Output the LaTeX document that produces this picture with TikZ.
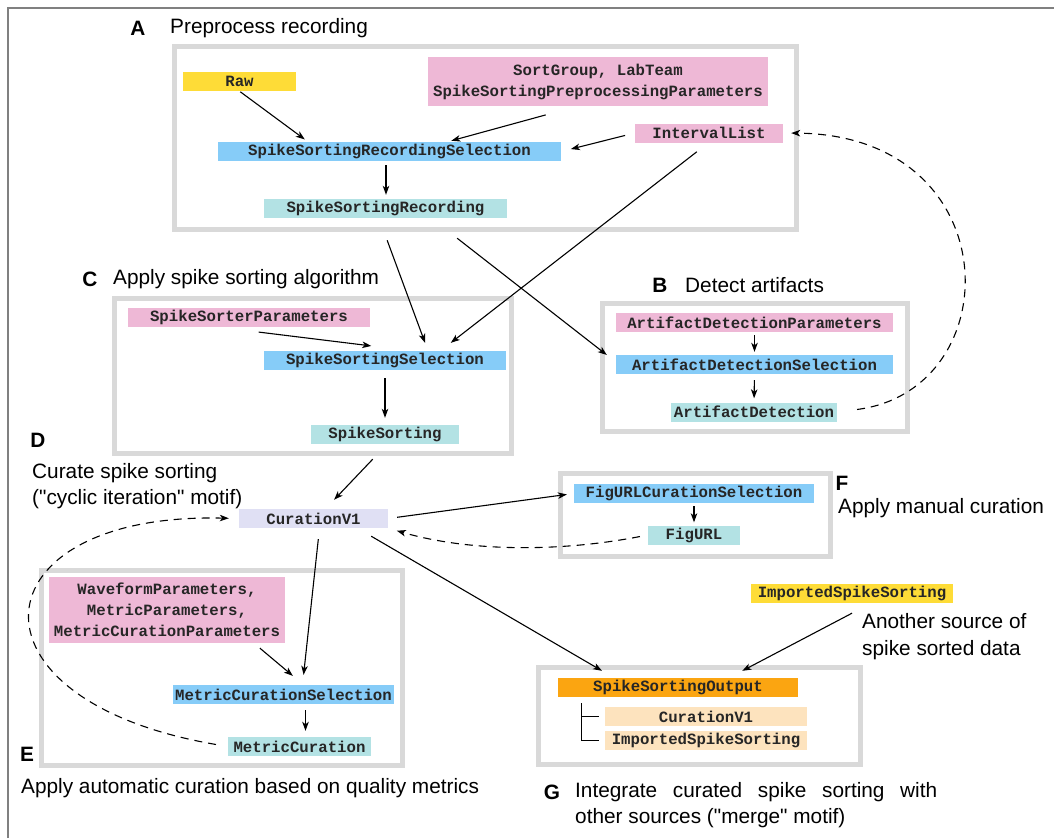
\documentclass[tikz,border=0pt]{standalone}
\usepackage{fontspec}
\setmainfont{Liberation Sans}
\setmonofont{Liberation Mono}
\usetikzlibrary{arrows,arrows.meta,positioning}

\definecolor{rawyellow}{HTML}{FEDC37}
\definecolor{parpink}{HTML}{EEB8D6}
\definecolor{selblue}{HTML}{86CCF8}
\definecolor{compteal}{HTML}{B3E2E4}
\definecolor{curlav}{HTML}{E0E0F4}
\definecolor{outorange}{HTML}{FBA511}
\definecolor{partorange}{HTML}{FDE3BE}
\definecolor{grpgray}{HTML}{D9D9D9}
\definecolor{framegray}{HTML}{808080}

\begin{document}
\begin{tikzpicture}[x=1pt,y=-1pt,
    tbl/.style={rectangle, inner sep=0pt, minimum height=19pt, align=center,
      font=\ttfamily\bfseries\fontsize{15.7}{21}\selectfont, text=black!85},
    rawtbl/.style={tbl, fill=rawyellow},
    partbl/.style={tbl, fill=parpink},
    seltbl/.style={tbl, fill=selblue},
    comptbl/.style={tbl, fill=compteal},
    curtbl/.style={tbl, fill=curlav},
    outtbl/.style={tbl, fill=outorange},
    parttbl/.style={tbl, fill=partorange},
    grp/.style={draw=grpgray, line width=5pt},
    ttl/.style={anchor=west, inner sep=0pt, align=left, font=\fontsize{20.8}{26.5}\selectfont},
    ltr/.style={inner sep=0pt, font=\bfseries\fontsize{20.8}{26.5}\selectfont},
    arr/.style={-{Stealth[length=9pt,width=6.5pt,inset=2.5pt]}, line width=1.1pt},
    dsh/.style={arr, dash pattern=on 8pt off 6pt}]
\useasboundingbox (0,0) rectangle (1054,838);
\draw[framegray, line width=2pt] (8,838) -- (8,8) -- (1054,8);

% A: preprocess recording
\draw[grp] (174,46) rectangle (796,229);
\node[ltr] (labA) at (138,28) {A};
\node[ttl] (ttlA) at (170,28) {Preprocess recording};
\node[rawtbl, minimum width=113pt] (raw) at (239.5,81.5) {Raw};
\node[partbl, minimum width=340pt, minimum height=49pt] (prep) at (598,81.5) {SortGroup, LabTeam\\SpikeSortingPreprocessingParameters};
\node[seltbl, minimum width=343pt] (ssrs) at (389.5,151.5) {SpikeSortingRecordingSelection};
\node[partbl, minimum width=148pt] (ilist) at (709,133) {IntervalList};
\node[comptbl, minimum width=243pt] (ssr) at (385.5,208.5) {SpikeSortingRecording};
\draw[arr, shorten <=1pt, shorten >=4pt] (raw.south) -- ([xshift=-81.5pt]ssrs.north);
\draw[arr, shorten <=33pt, shorten >=4pt] ([xshift=-20.5pt]prep.south) -- ([xshift=58pt]ssrs.north);
\draw[arr, shorten <=10pt, shorten >=10pt] (ilist.west) -- (ssrs.east);
\draw[arr, shorten <=4pt, shorten >=4pt] ([xshift=-3.5pt]ssrs.south) -- ([xshift=0.5pt]ssr.north);

% C: spike sorting
\draw[grp] (114,298) rectangle (511,453);
\node[ltr] (labC) at (90,279) {C};
\node[ttl] (ttlC) at (113,279) {Apply spike sorting algorithm};
\node[partbl, minimum width=242pt] (sspar) at (249,317.5) {SpikeSorterParameters};
\node[seltbl, minimum width=242pt] (sss) at (385,360.5) {SpikeSortingSelection};
\node[comptbl, minimum width=148pt] (ss) at (385,434.5) {SpikeSorting};
\draw[arr, shorten <=40pt, shorten >=40pt] ([xshift=-30pt]sspar.south) -- ([xshift=26pt]sss.north);
\draw[arr, shorten <=8pt, shorten >=7pt] (sss.south) -- (ss.north);
\draw[arr, shorten <=23.5pt, shorten >=8.5pt] ([xshift=-6.5pt]ssr.south) -- ([xshift=43pt]sss.north);
\draw[arr, shorten <=14.7pt, shorten >=13pt] ([xshift=-0.5pt]ilist.south) -- ([xshift=55.5pt]sss.north);

% B: artifacts
\draw[grp] (602,303) rectangle (907,431);
\node[ltr] (labB) at (660,285) {B};
\node[ttl] (ttlB) at (685,285) {Detect artifacts};
\node[partbl, minimum width=277pt] (adp) at (754.5,322.5) {ArtifactDetectionParameters};
\node[seltbl, minimum width=277pt] (ads) at (754.5,364.5) {ArtifactDetectionSelection};
\node[comptbl, minimum width=166pt] (ad) at (754,412) {ArtifactDetection};
\draw[arr, shorten <=3pt, shorten >=3pt] (adp.south) -- (ads.north);
\draw[arr, shorten <=6pt, shorten >=4pt] (ads.south) -- (ad.north);
\draw[arr, shorten <=32.5pt, shorten >=11.4pt] ([xshift=46pt]ssr.south) -- ([yshift=2.5pt]ads.west);
\draw[dsh, shorten <=20pt, shorten >=8pt] (ad.east) .. controls (1010,390) and (1010,135) .. (ilist.east);

% D: curation
\node[ltr] (labD) at (38,440) {D};
\node[ttl] (ttlD) at (32,486) {Curate spike sorting\\(\textquotedbl cyclic iteration\textquotedbl\ motif)};
\node[curtbl, minimum width=149pt] (cur) at (313.5,518.5) {CurationV1};
\draw[arr, shorten <=20.7pt, shorten >=12.4pt] ([xshift=2pt]ss.south) -- ([xshift=12pt]cur.north);

% F: manual curation
\draw[grp] (560,473) rectangle (830,556);
\node[ltr] (labF) at (842,483) {F};
\node[ttl] (ttlF) at (838,508) {Apply manual curation};
\node[seltbl, minimum width=240pt] (fcs) at (694,493.5) {FigURLCurationSelection};
\node[comptbl, minimum width=92pt] (furl) at (694,535) {FigURL};
\draw[arr, shorten <=9pt, shorten >=7pt] (cur.east) -- (fcs.west);
\draw[arr, shorten <=3pt, shorten >=3pt] (fcs.south) -- (furl.north);
\draw[dsh, shorten <=8pt, shorten >=9pt] (furl.west) .. controls (560,552) and (470,552) .. (cur.south east);

% E: automatic curation
\draw[grp] (41,570) rectangle (402,765);
\node[ltr] (labE) at (27,754) {E};
\node[ttl] (ttlE) at (21,788) {Apply automatic curation based on quality metrics};
\node[partbl, minimum width=236pt, minimum height=66pt] (mpar) at (167,610) {WaveformParameters,\\MetricParameters,\\MetricCurationParameters};
\node[seltbl, minimum width=221pt] (mcs) at (283.5,694.5) {MetricCurationSelection};
\node[comptbl, minimum width=143pt] (mc) at (299.5,746.5) {MetricCuration};
\draw[arr, shorten <=7.7pt, shorten >=13.9pt] ([xshift=87pt]mpar.south) -- ([xshift=20pt]mcs.north);
\draw[arr, shorten <=11pt, shorten >=10pt] ([xshift=6pt]cur.south) -- ([xshift=19pt]mcs.north);
\draw[arr, shorten <=6pt, shorten >=6pt] ([xshift=22pt]mcs.south) -- ([xshift=6pt]mc.north);
\draw[dsh, shorten <=12pt, shorten >=10pt] (mc.west) .. controls (-45,700) and (-25,512) .. (cur.west);

% G: merge
\draw[grp] (538,667) rectangle (860,764);
\node[rawtbl, minimum width=202pt] (isrc) at (852,593.5) {ImportedSpikeSorting};
\node[ttl] (ttlsrc) at (862,636.5) {Another source of\\spike sorted data};
\node[outtbl, minimum width=240pt] (sso) at (678,687.5) {SpikeSortingOutput};
\node[parttbl, minimum width=202pt] (pcur) at (706,716.5) {CurationV1};
\node[parttbl, minimum width=202pt] (piss) at (706,740.5) {ImportedSpikeSorting};
\draw[line width=1pt] ([xshift=-97pt,yshift=-6pt]sso.south) |- ([xshift=-6pt]piss.west);
\draw[line width=1pt] ([xshift=-6pt]pcur.west) -- ++(-18pt,0);
\draw[arr, shorten <=15.9pt, shorten >=13.9pt] ([xshift=44pt]cur.south) -- ([xshift=-64pt]sso.north);
\draw[arr, shorten <=21.4pt, shorten >=15pt] ([xshift=19pt]isrc.south) -- ([xshift=51pt]sso.north);
\node[ltr] (labG) at (552,792) {G};
\node[ttl] (ttlG) at (575,792) {\makebox[362pt][s]{Integrate curated spike sorting with}};
\node[ttl] (ttlG2) at (575,818) {other sources (\textquotedbl merge\textquotedbl\ motif)};
\end{tikzpicture}
\end{document}
